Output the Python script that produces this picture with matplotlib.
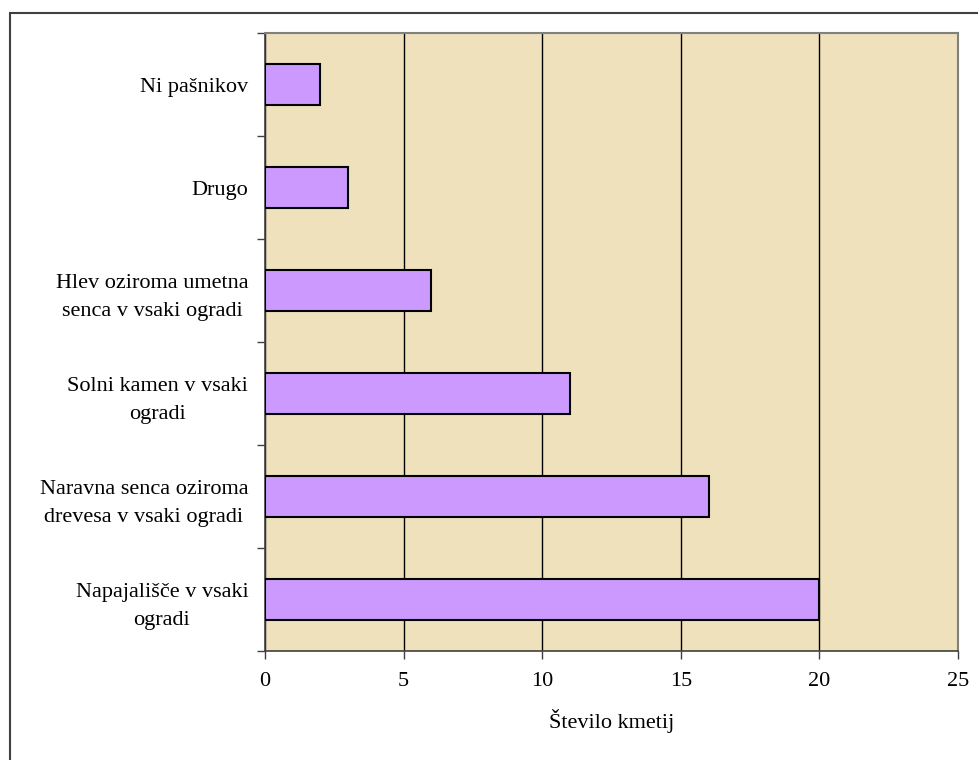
import numpy as np
import matplotlib.pyplot as plt
from matplotlib.patches import Rectangle

categories = ["Napajališče v vsaki\nogradi",
              "Naravna senca oziroma\ndrevesa v vsaki ogradi",
              "Solni kamen v vsaki\nogradi",
              "Hlev oziroma umetna\nsenca v vsaki ogradi",
              "Drugo",
              "Ni pašnikov"]
values = [20, 16, 11, 6, 3, 2]
x_ticks = [0, 5, 10, 15, 20, 25]
x_label = "Število kmetij"

plt.rcParams['font.family'] = ['Liberation Serif', 'DejaVu Serif']
plt.rcParams['font.size'] = 16

fig = plt.figure(figsize=(9.79, 7.6), dpi=100)
# outer chart frame (only top and left show in the crop)
fig.patches.append(Rectangle((10 / 979, -0.1), 1.2, 1 - 13 / 760 + 0.1,
                             transform=fig.transFigure, fill=False,
                             edgecolor='#404040', linewidth=1.5))

ax = fig.add_axes([265 / 979, 1 - 651 / 760, 693 / 979, 618 / 760])
ax.set_facecolor('#EFE1BC')

y = np.arange(len(categories))
ax.barh(y, values, height=0.4, color='#CC99FF', edgecolor='black',
        linewidth=1.5, zorder=3)

ax.set_xlim(0, 25)
ax.set_ylim(-0.5, len(categories) - 0.5)
ax.set_xticks(x_ticks)
ax.xaxis.grid(True, color='black', linewidth=1, zorder=1)
ax.set_axisbelow(True)

ax.set_yticks(y)
ax.set_yticklabels(categories, multialignment='center', linespacing=1.65)
ax.set_yticks(np.arange(-0.5, len(categories)), minor=True)
ax.tick_params(axis='y', which='major', length=0, pad=12)
ax.tick_params(axis='y', which='minor', length=6, width=1, color='#404040')
ax.tick_params(axis='x', length=6, width=1, color='#404040', pad=9)

for side in ['top', 'right']:
    ax.spines[side].set_color('#808080')
    ax.spines[side].set_linewidth(1.5)
for side in ['left', 'bottom']:
    ax.spines[side].set_color('#404040')
    ax.spines[side].set_linewidth(1.2)

ax.set_xlabel(x_label, labelpad=13)

fig.savefig("out.png", dpi=100)
